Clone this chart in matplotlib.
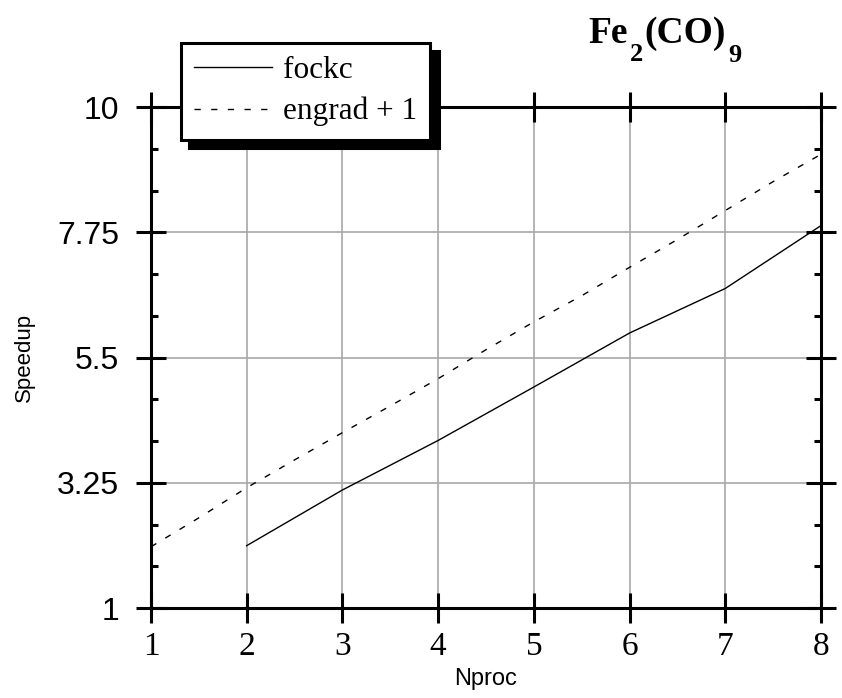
import matplotlib
matplotlib.use('Agg')
import matplotlib.pyplot as plt
import numpy as np

# data
nproc_fockc = [2, 3, 4, 5, 6, 7, 8]
speedup_fockc = [2.12, 3.12, 4.01, 4.97, 5.94, 6.74, 7.87]

nproc_engrad = [1, 1.5, 2, 2.5, 3, 3.5, 4, 4.5, 5, 5.5, 6, 6.5, 7, 7.5, 8]
speedup_engrad = [2.10, 2.62, 3.16, 3.66, 4.15, 4.63, 5.12, 5.64, 6.14, 6.61,
                  7.12, 7.62, 8.14, 8.66, 9.15]

xticks = [1, 2, 3, 4, 5, 6, 7, 8]
yticks = [1, 3.25, 5.5, 7.75, 10]
ytick_labels = ['1', '3.25', '5.5', '7.75', '10']

W, H = 842, 698
fig = plt.figure(figsize=(W / 100, H / 100), dpi=100)
ax = fig.add_axes([151 / W, 1 - 608 / H, 670 / W, 501 / H])

ax.plot(nproc_fockc, speedup_fockc, color='black', lw=1.0, label='fockc')
ax.plot(nproc_engrad, speedup_engrad, color='black', lw=1.0,
        linestyle=(0, (4.5, 7.5)), label='engrad + 1')

ax.set_xlim(1, 8)
ax.set_ylim(1, 10)
ax.set_xticks(xticks)
ax.set_yticks(yticks)
ax.set_yticklabels(ytick_labels)
ax.set_yticks(np.arange(1, 10.01, 0.75), minor=True)
ax.grid(True, which='major', color='#a8a8a8', lw=1.2)
ax.set_axisbelow(True)

for s in ax.spines.values():
    s.set_linewidth(2.2)
ax.tick_params(which='major', direction='inout', length=22, width=2.2,
               top=True, right=True)
ax.tick_params(which='minor', direction='in', length=5, width=2.2,
               left=True, right=True, top=False, bottom=False)
ax.tick_params(axis='x', which='major', pad=6, labelsize=24)
ax.tick_params(axis='y', which='major', pad=12, labelsize=23)
for lab in ax.get_xticklabels():
    lab.set_fontfamily('Liberation Serif')
for lab in ax.get_yticklabels():
    lab.set_fontfamily('Liberation Sans')

ax.set_xlabel('Nproc', fontfamily='Liberation Sans', fontsize=17, labelpad=4)
ax.set_ylabel('Speedup', fontfamily='Liberation Sans', fontsize=16, labelpad=16)

leg = ax.legend(loc='upper left', bbox_to_anchor=(181 / W, 1 - 43 / H),
                bbox_transform=fig.transFigure, prop={'family': 'Liberation Serif', 'size': 22.5},
                frameon=True, fancybox=False, edgecolor='black', framealpha=1,
                handlelength=2.5, handletextpad=0.35, labelspacing=0.38,
                borderpad=0.42, borderaxespad=0,
                shadow={'ox': 6, 'oy': -6, 'facecolor': 'black', 'edgecolor': 'black', 'alpha': 1})
leg.get_frame().set_linewidth(2.2)
leg.set_zorder(10)

# title Fe2(CO)9 built from pieces so the subscripts sit low like the original
big = dict(family='Liberation Serif', weight='bold', fontsize=27, va='baseline', ha='left')
small = dict(family='Liberation Serif', weight='bold', fontsize=19, va='baseline', ha='left')
pieces = [('Fe', big, 43), ('2', small, 61), ('(CO)', big, 43), ('9', small, 62)]
renderer = fig.canvas.get_renderer()
xpos = 588
for txt, props, base in pieces:
    t = fig.text(xpos / W, 1 - base / H, txt, **props)
    bb = t.get_window_extent(renderer)
    xpos = bb.x1 + 2

fig.savefig('out.png', dpi=100)
